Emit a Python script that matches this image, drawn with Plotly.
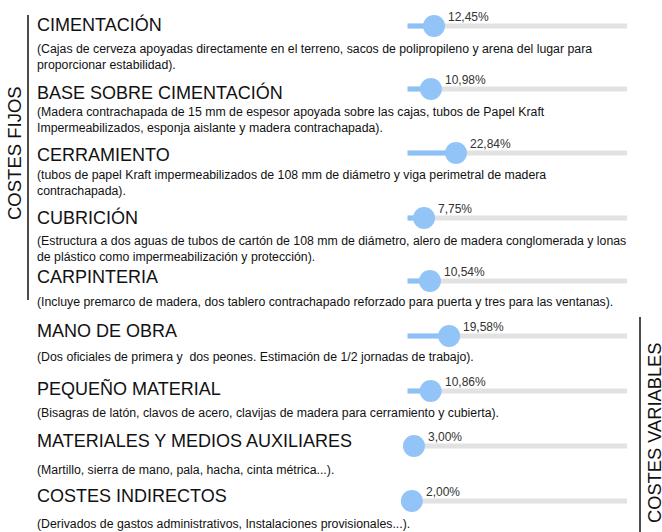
import plotly.graph_objects as go

# ---------------- data ----------------
titles = [
    "CIMENTACIÓN",
    "BASE SOBRE CIMENTACIÓN",
    "CERRAMIENTO",
    "CUBRICIÓN",
    "CARPINTERIA",
    "MANO DE OBRA",
    "PEQUEÑO MATERIAL",
    "MATERIALES Y MEDIOS AUXILIARES",
    "COSTES INDIRECTOS",
]
descriptions = [
    "(Cajas de cerveza apoyadas directamente en el terreno, sacos de polipropileno y arena del lugar para\nproporcionar estabilidad).",
    "(Madera contrachapada de 15 mm de espesor apoyada sobre las cajas, tubos de Papel Kraft\nImpermeabilizados, esponja aislante y madera contrachapada).",
    "(tubos de papel Kraft impermeabilizados de 108 mm de diámetro y viga perimetral de madera\ncontrachapada).",
    "(Estructura a dos aguas de tubos de cartón de 108 mm de diámetro, alero de madera conglomerada y lonas\nde plástico como impermeabilización y protección).",
    "(Incluye premarco de madera, dos tablero contrachapado reforzado para puerta y tres para las ventanas).",
    "(Dos oficiales de primera y  dos peones. Estimación de 1/2 jornadas de trabajo).",
    "(Bisagras de latón, clavos de acero, clavijas de madera para cerramiento y cubierta).",
    "(Martillo, sierra de mano, pala, hacha, cinta métrica...).",
    "(Derivados de gastos administrativos, Instalaciones provisionales...).",
]
percent = [12.45, 10.98, 22.84, 7.75, 10.54, 19.58, 10.86, 3.00, 2.00]
group_labels = ["COSTES FIJOS", "COSTES VARIABLES"]

# ---------------- layout constants (page pixels) ----------------
W, H = 662, 532
title_y = [24, 92, 155, 217, 277, 331, 388, 441, 496]
desc_y = [49, 112, 175, 241, 302, 357, 413, 470, 524]
track_y = [26, 89, 153, 218, 281, 336, 391, 446, 501]
TEXT_X = 35
LINE_H = 16
SLIDER_X0 = 407.6       # pixel where 0 % sits
PX_PER_PCT = 2.12       # pixel per percent
TRACK_END = 103.5       # track length in percent units

FONT = "Liberation Sans, Arial, sans-serif"

fig = go.Figure()

for i, p in enumerate(percent):
    ty = track_y[i]
    fig.add_trace(go.Scatter(x=[0, TRACK_END], y=[ty, ty], xaxis="x2", yaxis="y",
                             mode="lines", line=dict(color="#e2e2e2", width=5),
                             hoverinfo="skip", showlegend=False))
    fig.add_trace(go.Scatter(x=[0, p], y=[ty, ty], xaxis="x2", yaxis="y",
                             mode="lines", line=dict(color="#8dc0f6", width=5),
                             hoverinfo="skip", showlegend=False))
    fig.add_trace(go.Scatter(x=[p], y=[ty], xaxis="x2", yaxis="y",
                             mode="markers",
                             marker=dict(size=22, color="#93c4f8", line=dict(width=0)),
                             hoverinfo="skip", showlegend=False))

annotations = []
for i, t in enumerate(titles):
    annotations.append(dict(x=TEXT_X, y=title_y[i], xref="x", yref="y", text=t,
                            showarrow=False, xanchor="left", yanchor="middle",
                            font=dict(family=FONT, size=18, color="#111111")))
    for j, line in enumerate(descriptions[i].split("\n")):
        annotations.append(dict(x=TEXT_X, y=desc_y[i] + j * LINE_H, xref="x", yref="y",
                                text=line, showarrow=False, xanchor="left", yanchor="middle",
                                font=dict(family=FONT, size=12.3, color="#111111")))
    annotations.append(dict(x=percent[i], y=track_y[i] - 9, xref="x2", yref="y",
                            text=f"{percent[i]:.2f}%".replace(".", ","),
                            showarrow=False, xanchor="left", yanchor="middle", xshift=12,
                            font=dict(family=FONT, size=12, color="#333333")))

annotations.append(dict(x=14, y=153, xref="x", yref="y", text=group_labels[0],
                        showarrow=False, textangle=-90, xanchor="center", yanchor="middle",
                        font=dict(family=FONT, size=18.5, color="#111111")))
annotations.append(dict(x=654, y=433, xref="x", yref="y", text=group_labels[1],
                        showarrow=False, textangle=-90, xanchor="center", yanchor="middle",
                        borderpad=0,
                        font=dict(family=FONT, size=18.3, color="#111111")))

shapes = [
    dict(type="line", xref="x", yref="y", x0=28, x1=28, y0=15, y1=300,
         line=dict(color="#111111", width=1.5)),
    dict(type="line", xref="x", yref="y", x0=640, x1=640, y0=317, y1=532,
         line=dict(color="#111111", width=1.5)),
]

fig.update_layout(
    width=W, height=H,
    margin=dict(l=0, r=0, t=0, b=0),
    paper_bgcolor="white", plot_bgcolor="white",
    xaxis=dict(range=[0, W], visible=False, fixedrange=True),
    xaxis2=dict(range=[-SLIDER_X0 / PX_PER_PCT, (W - SLIDER_X0) / PX_PER_PCT],
                overlaying="x", visible=False, fixedrange=True),
    yaxis=dict(range=[H, 0], visible=False, fixedrange=True),
    annotations=annotations,
    shapes=shapes,
    showlegend=False,
)

fig.write_html(
    "out.html",
    config={"displayModeBar": False},
    post_script="document.body.style.margin='0';document.body.style.overflow='hidden';",
)
